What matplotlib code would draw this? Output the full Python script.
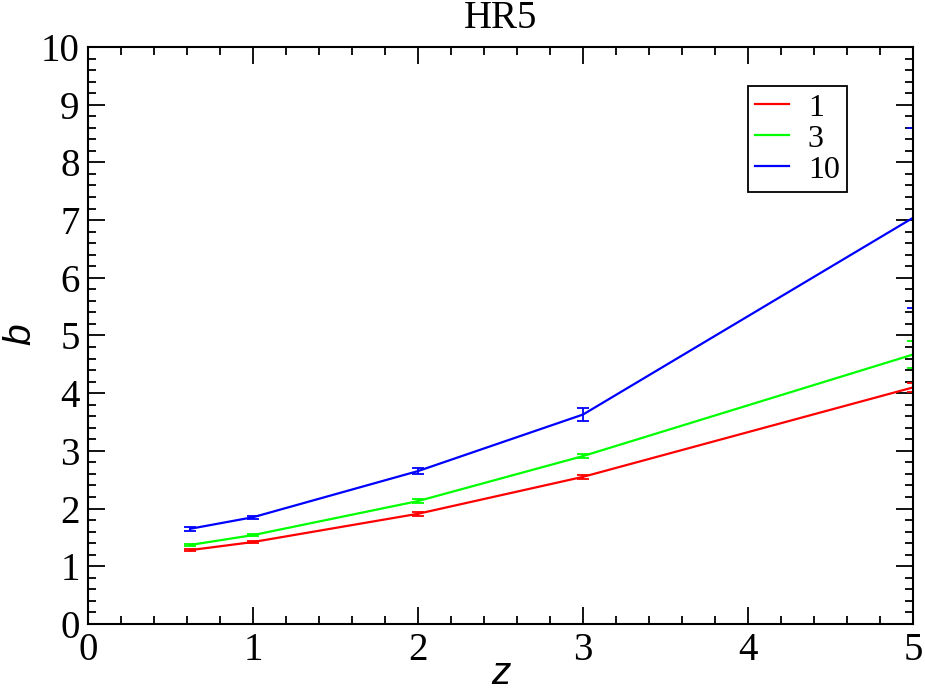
import numpy as np
import matplotlib
matplotlib.use("Agg")
import matplotlib.pyplot as plt
from matplotlib.ticker import MultipleLocator
from matplotlib.lines import Line2D

# data
z = [0.62, 1.0, 2.0, 3.0, 5.0]
b_1 = [1.28, 1.42, 1.91, 2.55, 4.10]
b_3 = [1.37, 1.54, 2.13, 2.91, 4.67]
b_10 = [1.65, 1.85, 2.65, 3.63, 7.04]
err_1 = [0.02, 0.02, 0.03, 0.03, 0.08]
err_3 = [0.02, 0.02, 0.03, 0.04, 0.23]
err_10 = [0.03, 0.03, 0.05, 0.11, 1.56]
labels = ["1", "3", "10"]
colors = ["#ff0000", "#00ff00", "#0000ff"]

plt.rcParams['font.family'] = ['Liberation Serif', 'DejaVu Serif']

fig = plt.figure(figsize=(9.25, 6.93), dpi=100)
ax = fig.add_axes([0.0951, 0.0996, 0.892, 0.8326])

handles = []
for y, e, lab, c in zip([b_1, b_3, b_10], [err_1, err_3, err_10], labels, colors):
    ax.errorbar(z, y, yerr=e, color=c, lw=1.6, elinewidth=1.3, capsize=4.5,
                capthick=1.3)
    handles.append(Line2D([], [], color=c, lw=1.6, label=lab))

ax.set_xlim(0, 5)
ax.set_ylim(0, 10)
ax.xaxis.set_major_locator(MultipleLocator(1))
ax.xaxis.set_minor_locator(MultipleLocator(0.2))
ax.yaxis.set_major_locator(MultipleLocator(1))
ax.yaxis.set_minor_locator(MultipleLocator(0.2))
ax.tick_params(which='both', direction='in', top=True, right=True, width=1.3)
ax.tick_params(which='major', length=12, labelsize=28, pad=6)
ax.tick_params(which='minor', length=6)
for s in ax.spines.values():
    s.set_linewidth(1.5)

ax.set_xlabel("z", fontsize=28, family='Liberation Sans', style='italic')
ax.set_ylabel("b", fontsize=28, family='Liberation Sans', style='italic')
ax.xaxis.label.set_va('center')
ax.xaxis.set_label_coords(0.5, -0.086)
ax.yaxis.label.set_va('center')
ax.yaxis.label.set_rotation_mode('default')
ax.yaxis.set_label_coords(-0.082, 0.503)
ax.set_title("HR5", fontsize=28, pad=14)

leg = ax.legend(handles=handles, loc='upper left', bbox_to_anchor=(0.8, 0.932),
                fontsize=23, fancybox=False, edgecolor='black', framealpha=1,
                handlelength=1.05, handletextpad=0.6, labelspacing=0.05,
                borderpad=0.22, borderaxespad=0)
leg.get_frame().set_linewidth(1.3)

fig.savefig("out.png", dpi=100)
